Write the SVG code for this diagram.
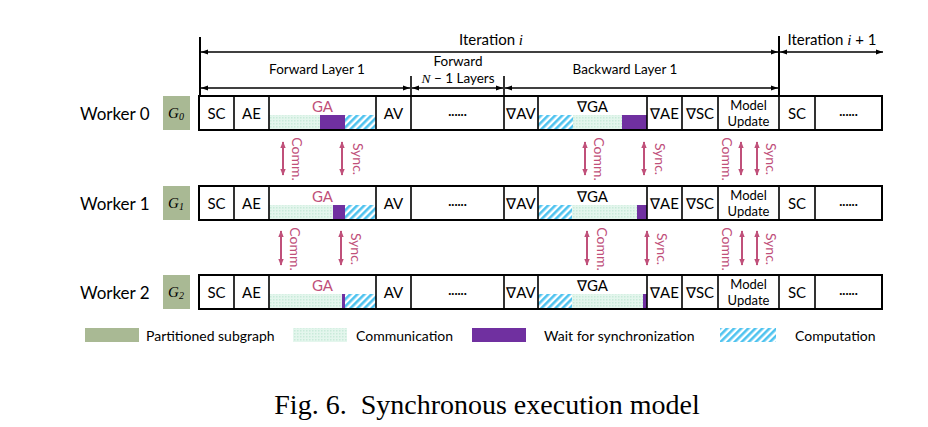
<svg xmlns="http://www.w3.org/2000/svg" width="928" height="427" viewBox="0 0 928 427">
<style>
text{font-family:Lato,"Liberation Sans",sans-serif;fill:#000}
.cell{font-size:15px;text-anchor:middle;dominant-baseline:central}
.dots{font-size:13px;font-weight:bold;text-anchor:middle;dominant-baseline:central}
.small{font-size:13px;text-anchor:middle;dominant-baseline:central}
.hdr{font-size:13.5px;text-anchor:middle}
.wk{font-size:17px;dominant-baseline:central}
.pk{fill:#c0507a;font-size:14px;text-anchor:middle;dominant-baseline:central}
.gl{font-family:"Liberation Serif",serif;font-style:italic;font-size:15px;text-anchor:middle;dominant-baseline:central}
.leg{font-size:14px;dominant-baseline:central}
.math{font-family:"Liberation Serif",serif;font-style:italic}
.frame{fill:none;stroke:#000;stroke-width:2}
.div{stroke:#000;stroke-width:1.6}
.blk{stroke:#000;stroke-width:1.6;fill:none}
.pkl{stroke:#c0507a;stroke-width:2;marker-start:url(#pa);marker-end:url(#pa)}
</style>
<defs>
<marker id="ba" viewBox="0 0 10 10" refX="10" refY="5" markerUnits="userSpaceOnUse" markerWidth="7" markerHeight="7" orient="auto-start-reverse"><path d="M0,1.5 L10,5 L0,8.5 z" fill="#000"/></marker>
<marker id="pa" viewBox="0 0 10 10" refX="9" refY="5" markerUnits="userSpaceOnUse" markerWidth="7" markerHeight="7" orient="auto-start-reverse"><path d="M0,1 L10,5 L0,9 z" fill="#c0507a"/></marker>
<pattern id="comm" width="3" height="3" patternUnits="userSpaceOnUse"><rect width="3" height="3" fill="#e4f6ed"/><rect width="1.5" height="1.5" fill="#c9eada"/></pattern>
<pattern id="hatch" width="5" height="5" patternUnits="userSpaceOnUse" patternTransform="rotate(45)"><rect width="5" height="5" fill="#fff"/><rect width="2.6" height="5" fill="#4fc3ef"/></pattern>
</defs>

<g id="header">
<line x1="200" y1="37" x2="200" y2="96" stroke="#000" stroke-width="2"/>
<line x1="779" y1="36" x2="779" y2="96" stroke="#000" stroke-width="2"/>
<line x1="411" y1="76" x2="411" y2="95" stroke="#000" stroke-width="1.6"/>
<line x1="504" y1="76" x2="504" y2="95" stroke="#000" stroke-width="1.6"/>
<text x="491" y="45" class="hdr" style="font-size:15px">Iteration <tspan class="math">i</tspan></text>
<text x="832" y="45" class="hdr" style="font-size:15px">Iteration <tspan class="math">i</tspan> + 1</text>
<text x="317" y="74" class="hdr">Forward Layer 1</text>
<text x="458" y="66" class="hdr">Forward</text>
<text x="458" y="83" class="hdr"><tspan class="math">N</tspan> − 1 Layers</text>
<text x="625" y="74" class="hdr">Backward Layer 1</text>
</g>

<g id="connectors">
<line x1="201" y1="52" x2="778" y2="52" class="blk" style="marker-start:url(#ba);marker-end:url(#ba)"/>
<line x1="780" y1="52" x2="883" y2="52" class="blk" style="marker-start:url(#ba);marker-end:url(#ba)"/>
<line x1="201" y1="88" x2="410" y2="88" class="blk" style="marker-start:url(#ba);marker-end:url(#ba)"/>
<line x1="412" y1="88" x2="503" y2="88" class="blk" style="marker-start:url(#ba);marker-end:url(#ba)"/>
<line x1="505" y1="88" x2="778" y2="88" class="blk" style="marker-start:url(#ba);marker-end:url(#ba)"/>
<line x1="283" y1="142" x2="283" y2="175" class="pkl"/>
<line x1="342" y1="142" x2="342" y2="175" class="pkl"/>
<line x1="585" y1="142" x2="585" y2="175" class="pkl"/>
<line x1="644" y1="142" x2="644" y2="175" class="pkl"/>
<line x1="741" y1="142" x2="741" y2="175" class="pkl"/>
<line x1="757" y1="142" x2="757" y2="175" class="pkl"/>
<line x1="281" y1="231" x2="281" y2="265" class="pkl"/>
<line x1="341" y1="231" x2="341" y2="265" class="pkl"/>
<line x1="587" y1="231" x2="587" y2="265" class="pkl"/>
<line x1="647" y1="231" x2="647" y2="265" class="pkl"/>
<line x1="742" y1="231" x2="742" y2="265" class="pkl"/>
<line x1="757" y1="231" x2="757" y2="265" class="pkl"/>
<text class="pk" transform="translate(297,159) rotate(90)">Comm.</text>
<text class="pk" transform="translate(358,159) rotate(90)">Sync.</text>
<text class="pk" transform="translate(599,159) rotate(90)">Comm.</text>
<text class="pk" transform="translate(660,159) rotate(90)">Sync.</text>
<text class="pk" transform="translate(727,159) rotate(90)">Comm.</text>
<text class="pk" transform="translate(771,159) rotate(90)">Sync.</text>
<text class="pk" transform="translate(295,249) rotate(90)">Comm.</text>
<text class="pk" transform="translate(356,249) rotate(90)">Sync.</text>
<text class="pk" transform="translate(602,249) rotate(90)">Comm.</text>
<text class="pk" transform="translate(662,249) rotate(90)">Sync.</text>
<text class="pk" transform="translate(727,249) rotate(90)">Comm.</text>
<text class="pk" transform="translate(771,249) rotate(90)">Sync.</text>
</g>

<g id="worker0" transform="translate(0,96)">
<text x="80" y="17" class="wk">Worker 0</text>
<rect x="163" y="0" width="27" height="34" fill="#a9b994"/>
<text x="176" y="17" class="gl">G<tspan font-size="10" dy="3">0</tspan></text>
<rect x="269" y="19" width="51" height="14" fill="url(#comm)"/>
<rect x="320" y="19" width="25" height="14" fill="#7030a0"/>
<rect x="345" y="19" width="31" height="14" fill="url(#hatch)"/>
<rect x="538" y="19" width="35" height="14" fill="url(#hatch)"/>
<rect x="573" y="19" width="49" height="14" fill="url(#comm)"/>
<rect x="622" y="19" width="25" height="14" fill="#7030a0"/>
<rect x="199" y="0" width="683" height="34" class="frame"/>
<path class="div" d="M234,0V34M269,0V34M376,0V34M411,0V34M504,0V34M538,0V34M647,0V34M682,0V34M718,0V34M779,0V34M815,0V34"/>
<text x="216.5" y="17" class="cell">SC</text>
<text x="251.5" y="17" class="cell">AE</text>
<text x="322.5" y="10" class="cell" style="fill:#c0507a">GA</text>
<text x="393.5" y="17" class="cell">AV</text>
<text x="457.5" y="15" class="dots">......</text>
<text x="521" y="17" class="cell">∇AV</text>
<text x="592.5" y="10" class="cell">∇GA</text>
<text x="664.5" y="17" class="cell">∇AE</text>
<text x="700" y="17" class="cell">∇SC</text>
<text x="748.5" y="9" class="small">Model</text>
<text x="748.5" y="25" class="small">Update</text>
<text x="797" y="17" class="cell">SC</text>
<text x="848.5" y="15" class="dots">......</text>
</g>

<g id="worker1" transform="translate(0,186)">
<text x="80" y="17" class="wk">Worker 1</text>
<rect x="163" y="0" width="27" height="34" fill="#a9b994"/>
<text x="176" y="17" class="gl">G<tspan font-size="10" dy="3">1</tspan></text>
<rect x="269" y="19" width="64" height="14" fill="url(#comm)"/>
<rect x="333" y="19" width="12" height="14" fill="#7030a0"/>
<rect x="345" y="19" width="31" height="14" fill="url(#hatch)"/>
<rect x="538" y="19" width="34" height="14" fill="url(#hatch)"/>
<rect x="572" y="19" width="65" height="14" fill="url(#comm)"/>
<rect x="637" y="19" width="10" height="14" fill="#7030a0"/>
<rect x="199" y="0" width="683" height="34" class="frame"/>
<path class="div" d="M234,0V34M269,0V34M376,0V34M411,0V34M504,0V34M538,0V34M647,0V34M682,0V34M718,0V34M779,0V34M815,0V34"/>
<text x="216.5" y="17" class="cell">SC</text>
<text x="251.5" y="17" class="cell">AE</text>
<text x="322.5" y="10" class="cell" style="fill:#c0507a">GA</text>
<text x="393.5" y="17" class="cell">AV</text>
<text x="457.5" y="15" class="dots">......</text>
<text x="521" y="17" class="cell">∇AV</text>
<text x="592.5" y="10" class="cell">∇GA</text>
<text x="664.5" y="17" class="cell">∇AE</text>
<text x="700" y="17" class="cell">∇SC</text>
<text x="748.5" y="9" class="small">Model</text>
<text x="748.5" y="25" class="small">Update</text>
<text x="797" y="17" class="cell">SC</text>
<text x="848.5" y="15" class="dots">......</text>
</g>

<g id="worker2" transform="translate(0,275)">
<text x="80" y="17" class="wk">Worker 2</text>
<rect x="163" y="0" width="27" height="34" fill="#a9b994"/>
<text x="176" y="17" class="gl">G<tspan font-size="10" dy="3">2</tspan></text>
<rect x="269" y="19" width="73" height="14" fill="url(#comm)"/>
<rect x="342" y="19" width="3" height="14" fill="#7030a0"/>
<rect x="345" y="19" width="31" height="14" fill="url(#hatch)"/>
<rect x="538" y="19" width="34" height="14" fill="url(#hatch)"/>
<rect x="572" y="19" width="71" height="14" fill="url(#comm)"/>
<rect x="643" y="19" width="4" height="14" fill="#7030a0"/>
<rect x="199" y="0" width="683" height="34" class="frame"/>
<path class="div" d="M234,0V34M269,0V34M376,0V34M411,0V34M504,0V34M538,0V34M647,0V34M682,0V34M718,0V34M779,0V34M815,0V34"/>
<text x="216.5" y="17" class="cell">SC</text>
<text x="251.5" y="17" class="cell">AE</text>
<text x="322.5" y="10" class="cell" style="fill:#c0507a">GA</text>
<text x="393.5" y="17" class="cell">AV</text>
<text x="457.5" y="15" class="dots">......</text>
<text x="521" y="17" class="cell">∇AV</text>
<text x="592.5" y="10" class="cell">∇GA</text>
<text x="664.5" y="17" class="cell">∇AE</text>
<text x="700" y="17" class="cell">∇SC</text>
<text x="748.5" y="9" class="small">Model</text>
<text x="748.5" y="25" class="small">Update</text>
<text x="797" y="17" class="cell">SC</text>
<text x="848.5" y="15" class="dots">......</text>
</g>

<g id="legend">
<rect x="85" y="328" width="54" height="14" fill="#a9b994"/>
<text x="146" y="335" class="leg">Partitioned subgraph</text>
<rect x="293" y="328" width="54" height="14" fill="url(#comm)"/>
<text x="356" y="335" class="leg">Communication</text>
<rect x="472" y="328" width="54" height="14" fill="#7030a0"/>
<text x="544" y="335" class="leg">Wait for synchronization</text>
<rect x="720" y="328" width="56" height="14" fill="url(#hatch)"/>
<text x="795" y="335" class="leg">Computation</text>
</g>

<text x="487" y="414" text-anchor="middle" style="font-family:'Liberation Serif',serif;font-size:28px">Fig. 6.&#160; Synchronous execution model</text>
</svg>
